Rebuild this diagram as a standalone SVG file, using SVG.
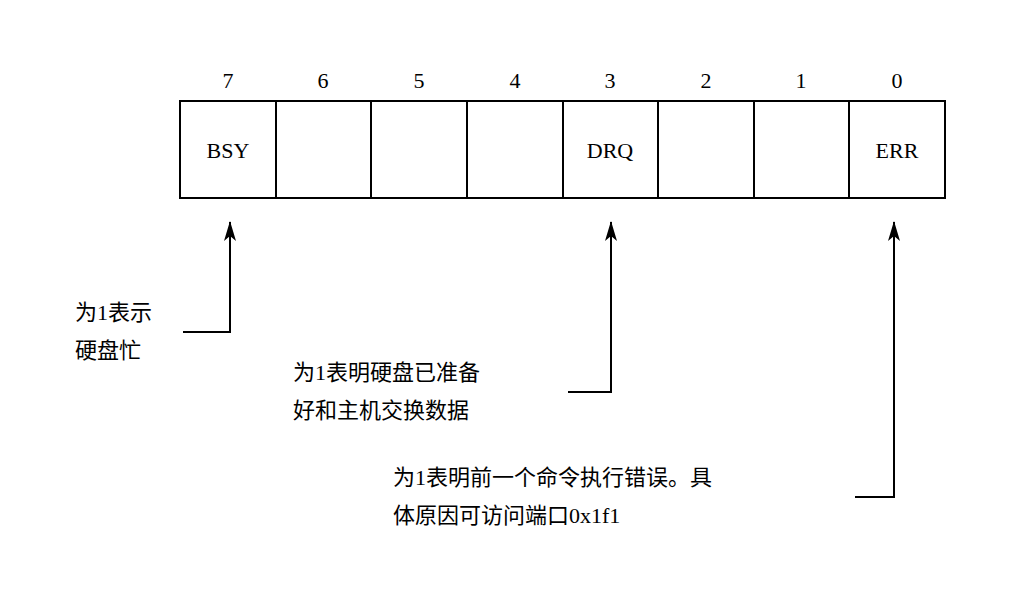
<svg xmlns="http://www.w3.org/2000/svg" width="1035" height="598" viewBox="0 0 1035 598">
<style>
text{font-family:"Liberation Serif","Noto Sans CJK SC",serif;font-size:22px;fill:#000}
.n{text-anchor:middle}
.l{stroke:#000;stroke-width:2;fill:none}
</style>
<defs><marker id="a" markerWidth="20" markerHeight="12" refX="19" refY="6" orient="auto" markerUnits="userSpaceOnUse" viewBox="0 0 20 12"><path d="M20,6 L0,0 L5,6 L0,12 Z" fill="#000"/></marker></defs>
<rect width="1035" height="598" fill="#fff"/>
<g id="register">
<rect class="l" x="180" y="101" width="765" height="97"/>
<path class="l" d="M276,101V198M371,101V198M467,101V198M563,101V198M658,101V198M754,101V198M849,101V198"/>
<text class="n" x="228" y="88">7</text><text class="n" x="323" y="88">6</text><text class="n" x="419" y="88">5</text><text class="n" x="515" y="88">4</text><text class="n" x="610" y="88">3</text><text class="n" x="706" y="88">2</text><text class="n" x="801" y="88">1</text><text class="n" x="897" y="88">0</text>
<text class="n" x="228" y="158">BSY</text><text class="n" x="610" y="158">DRQ</text><text class="n" x="897" y="158">ERR</text>
</g>
<g id="connectors">
<path class="l" d="M183,332H230V222" marker-end="url(#a)"/>
<path class="l" d="M568,392H611V222" marker-end="url(#a)"/>
<path class="l" d="M855,497H894V222" marker-end="url(#a)"/>
</g>
<g id="bsy-label"><text x="75" y="320">为1表示</text><text x="75" y="358">硬盘忙</text></g>
<g id="drq-label"><text x="293" y="380">为1表明硬盘已准备</text><text x="293" y="418">好和主机交换数据</text></g>
<g id="err-label"><text x="393" y="485">为1表明前一个命令执行错误。具</text><text x="393" y="523">体原因可访问端口0x1f1</text></g>
</svg>
